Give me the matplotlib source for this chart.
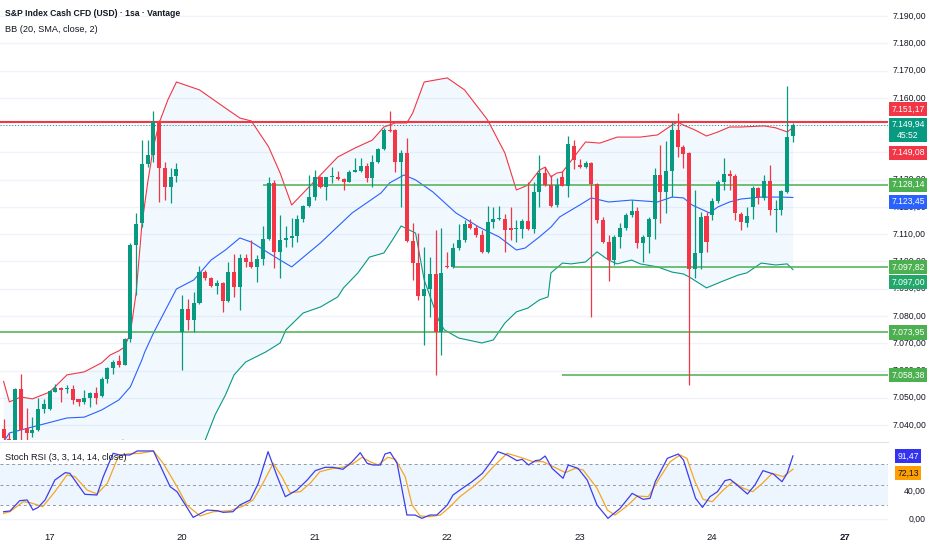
import matplotlib
matplotlib.use('Agg')
import matplotlib.pyplot as plt
import matplotlib.transforms as mtrans
from matplotlib import font_manager
import numpy as np

# TradingView text is narrow; use Liberation Sans Narrow when it is installed
try:
    font_manager.findfont('Liberation Sans Narrow', fallback_to_default=False)
    plt.rcParams['font.family'] = ['Liberation Sans Narrow', 'DejaVu Sans']
    FS = 7.4
except ValueError:
    plt.rcParams['font.family'] = ['Liberation Sans', 'DejaVu Sans']
    FS = 6.2

# 1 hour candles, S&P Index Cash CFD
opens = [7038.4, 7035.0, 7030.5, 7053.2, 7038.9, 7037.2, 7038.1, 7045.8, 7045.8, 7052.2,
         7053.7, 7053.2, 7053.4, 7049.4, 7048.3, 7049.9, 7051.8, 7050.7, 7056.9, 7061.1,
         7063.6, 7062.1, 7071.6, 7106.2, 7114.0, 7135.6, 7139.0, 7151.0, 7134.1, 7127.4,
         7131.3, 7074.2, 7082.6, 7078.5, 7084.6, 7096.2, 7093.8, 7091.1, 7092.2, 7085.6,
         7096.2, 7090.5, 7101.1, 7099.9, 7098.1, 7100.8, 7108.1, 7128.6, 7103.6, 7107.9,
         7108.5, 7109.3, 7115.4, 7120.3, 7123.5, 7130.8, 7127.2, 7130.8, 7131.0, 7130.2,
         7129.2, 7132.9, 7133.2, 7135.1, 7130.5, 7136.3, 7141.1, 7148.2, 7148.2, 7136.3,
         7139.9, 7107.6, 7099.3, 7087.5, 7089.8, 7095.3, 7074.3, 7098.4, 7098.1, 7105.1,
         7107.9, 7113.6, 7112.2, 7109.7, 7103.6, 7114.3, 7115.5, 7115.7, 7112.1, 7111.8,
         7111.8, 7115.0, 7111.8, 7125.6, 7132.3, 7128.1, 7120.8, 7131.1, 7127.7, 7142.4,
         7135.4, 7134.5, 7136.2, 7128.4, 7115.2, 7107.3, 7100.6, 7109.1, 7112.2, 7117.1,
         7118.6, 7106.7, 7108.9, 7115.5, 7131.7, 7125.6, 7133.3, 7148.2, 7142.1, 7139.9,
         7097.1, 7103.2, 7116.6, 7117.0, 7122.2, 7129.0, 7132.0, 7131.3, 7117.4, 7114.2,
         7120.0, 7126.8, 7123.1, 7129.5, 7118.8, 7118.8, 7125.5, 7146.0]
highs = [7042.4, 7037.0, 7053.6, 7058.6, 7046.1, 7042.8, 7050.1, 7049.4, 7052.8, 7055.0,
         7054.0, 7054.6, 7054.6, 7049.6, 7052.8, 7052.2, 7054.0, 7057.7, 7061.4, 7063.8,
         7065.7, 7072.0, 7106.6, 7117.6, 7144.5, 7144.5, 7155.3, 7151.9, 7136.6, 7134.1,
         7136.0, 7087.7, 7086.2, 7088.9, 7098.4, 7096.9, 7094.4, 7093.2, 7092.6, 7099.9,
         7102.9, 7102.7, 7102.9, 7107.9, 7102.4, 7113.0, 7131.1, 7129.9, 7117.0, 7113.0,
         7115.8, 7117.0, 7120.7, 7131.7, 7133.5, 7131.3, 7131.0, 7134.7, 7133.3, 7130.5,
         7133.5, 7137.8, 7137.8, 7136.0, 7139.0, 7141.5, 7148.8, 7155.3, 7148.4, 7140.9,
         7145.1, 7114.0, 7110.3, 7105.4, 7101.8, 7111.6, 7112.2, 7103.6, 7106.7, 7113.8,
         7115.2, 7115.5, 7113.4, 7111.6, 7120.4, 7119.9, 7120.4, 7117.3, 7119.9, 7115.2,
         7115.5, 7129.3, 7129.3, 7139.1, 7134.8, 7131.7, 7130.5, 7133.0, 7146.0, 7144.6,
         7137.5, 7137.0, 7136.6, 7128.7, 7116.4, 7109.7, 7109.7, 7114.0, 7117.7, 7122.6,
         7120.1, 7109.7, 7116.4, 7134.2, 7142.7, 7144.0, 7151.3, 7154.6, 7142.7, 7140.2,
         7126.2, 7118.2, 7118.2, 7123.1, 7129.8, 7138.1, 7133.5, 7132.0, 7118.2, 7120.0,
         7127.6, 7127.4, 7131.7, 7135.3, 7122.5, 7126.2, 7164.3, 7150.6]
lows = [7033.9, 7028.0, 7029.0, 7031.0, 7033.0, 7035.5, 7037.8, 7044.5, 7045.7, 7052.0,
        7048.5, 7051.6, 7047.9, 7047.1, 7047.9, 7046.5, 7047.9, 7050.4, 7055.5, 7058.7,
        7061.4, 7062.1, 7070.5, 7087.7, 7112.7, 7134.8, 7136.6, 7121.9, 7122.5, 7121.3,
        7129.2, 7060.2, 7074.8, 7074.2, 7084.4, 7093.2, 7090.7, 7087.9, 7081.6, 7085.2,
        7087.1, 7082.2, 7098.1, 7097.5, 7092.6, 7098.7, 7107.9, 7097.5, 7093.8, 7105.4,
        7105.4, 7107.2, 7114.6, 7120.1, 7122.5, 7126.8, 7122.5, 7128.6, 7129.9, 7126.2,
        7129.0, 7132.9, 7132.9, 7129.2, 7127.2, 7136.0, 7140.9, 7147.6, 7132.9, 7119.8,
        7107.2, 7093.2, 7085.9, 7069.4, 7079.8, 7058.4, 7065.7, 7097.5, 7097.5, 7104.2,
        7107.3, 7111.8, 7109.1, 7103.2, 7103.0, 7112.2, 7115.2, 7103.6, 7107.9, 7107.3,
        7108.5, 7111.6, 7110.6, 7119.9, 7127.5, 7119.9, 7120.1, 7127.5, 7123.5, 7133.8,
        7134.2, 7134.2, 7079.8, 7114.0, 7106.7, 7093.0, 7098.7, 7104.8, 7111.6, 7116.4,
        7104.8, 7099.9, 7103.2, 7108.1, 7114.0, 7117.7, 7123.8, 7138.4, 7134.1, 7054.6,
        7093.8, 7097.1, 7103.5, 7115.2, 7121.3, 7126.2, 7126.2, 7115.2, 7111.5, 7112.7,
        7115.4, 7121.0, 7122.5, 7117.0, 7110.9, 7117.0, 7125.2, 7143.9]
closes = [7035.1, 7030.5, 7053.2, 7038.1, 7037.2, 7038.1, 7045.8, 7047.7, 7052.5, 7053.7,
          7052.8, 7053.3, 7049.1, 7048.3, 7049.9, 7051.8, 7050.1, 7056.9, 7061.1, 7063.3,
          7062.1, 7071.6, 7106.2, 7113.9, 7135.6, 7139.0, 7151.0, 7134.1, 7127.4, 7130.8,
          7133.8, 7082.6, 7078.5, 7084.6, 7096.2, 7093.8, 7091.1, 7092.2, 7085.6, 7096.2,
          7090.5, 7101.1, 7099.9, 7098.1, 7100.8, 7108.1, 7128.6, 7103.6, 7107.9, 7108.5,
          7109.3, 7115.4, 7120.3, 7123.5, 7130.8, 7127.2, 7130.8, 7131.0, 7130.2, 7129.2,
          7132.9, 7133.2, 7135.1, 7130.5, 7136.3, 7141.1, 7148.2, 7147.8, 7136.3, 7139.9,
          7107.6, 7099.3, 7087.5, 7089.8, 7095.3, 7074.3, 7095.7, 7097.9, 7105.1, 7107.9,
          7113.6, 7112.2, 7109.7, 7103.6, 7114.3, 7115.5, 7115.7, 7111.6, 7111.6, 7112.3,
          7115.0, 7111.8, 7125.6, 7132.3, 7128.1, 7120.4, 7128.1, 7127.7, 7143.1, 7137.2,
          7134.5, 7136.2, 7128.4, 7115.2, 7107.3, 7100.6, 7109.1, 7112.2, 7117.1, 7118.6,
          7106.7, 7108.9, 7115.5, 7131.7, 7125.6, 7133.3, 7148.2, 7142.1, 7139.4, 7097.1,
          7103.2, 7116.4, 7107.0, 7122.2, 7129.0, 7132.0, 7131.3, 7117.6, 7114.5, 7116.6,
          7126.8, 7123.7, 7129.5, 7118.8, 7119.3, 7125.9, 7145.5, 7149.94]

# Bollinger bands (20, SMA, close, 2): bar position -> price
bb_up_x = [0, 1, 3, 5, 8, 11, 14, 17, 18.5, 20, 21, 22, 23, 24, 25, 26, 27, 28.5, 30, 34,
           39, 41, 43, 46, 48, 50, 52, 55, 58, 61, 64, 66, 68, 70, 71, 73, 77, 80, 82, 84,
           87, 89, 91, 93, 94, 95, 96, 97, 99, 101, 103.5, 106.5, 110.5, 113.5, 116, 117,
           118, 120, 122, 124, 126, 128, 132, 134, 136, 137]
bb_up_y = [7056.0, 7048.5, 7050.3, 7049.6, 7052.1, 7058.4, 7059.5, 7062.8, 7065.7, 7067.2,
           7068.6, 7073.8, 7088.4, 7113.4, 7128.8, 7142.0, 7150.8, 7159.2, 7165.8, 7162.9,
           7155.5, 7152.6, 7151.5, 7142.0, 7132.4, 7120.7, 7125.1, 7131.7, 7138.3, 7141.6,
           7144.5, 7149.3, 7150.8, 7150.8, 7154.4, 7165.8, 7167.3, 7162.9, 7157.4, 7151.9,
           7139.8, 7126.2, 7128.0, 7133.5, 7134.6, 7131.0, 7132.4, 7132.8, 7138.3, 7143.8,
           7143.4, 7145.6, 7145.6, 7146.4, 7150.0, 7151.1, 7150.0, 7148.2, 7146.0, 7147.5,
           7149.3, 7149.3, 7149.7, 7149.0, 7147.5, 7149.08]
bb_mid_x = [0, 1, 5, 11, 14, 17, 20, 22, 24, 24.5, 26, 30, 33, 36, 38.5, 41, 43, 46, 48, 50,
            55, 60.5, 65.5, 67, 69.5, 71.5, 74.5, 78.5, 82.5, 86, 89, 90.5, 93, 95, 96.5,
            100, 102, 105, 109, 113.5, 116, 118, 119.5, 122.5, 124, 126, 128, 131.5, 135, 137]
bb_mid_y = [7033.8, 7037.1, 7039.3, 7042.6, 7042.9, 7045.5, 7049.2, 7054.0, 7063.9, 7066.8,
            7073.7, 7089.9, 7093.2, 7100.5, 7104.2, 7108.6, 7107.1, 7103.1, 7100.5, 7098.0,
            7106.8, 7117.8, 7125.1, 7128.8, 7131.7, 7129.9, 7125.5, 7117.8, 7112.6, 7109.0,
            7104.2, 7104.9, 7109.0, 7112.6, 7116.3, 7120.7, 7123.3, 7121.8, 7122.5, 7121.8,
            7123.6, 7123.3, 7120.7, 7117.8, 7120.0, 7121.8, 7122.9, 7123.6, 7123.6, 7123.45]
bb_lo_x = [0, 5, 11, 17, 20.7, 22, 24, 26, 30, 33, 35, 36.7, 38.5, 40, 42, 45.5, 48, 49, 52,
           55, 58, 59, 61.5, 63.5, 66, 67.5, 69, 71.5, 73, 75.5, 76.5, 79, 83, 85, 87, 89,
           91, 93, 94.5, 95, 97, 98.5, 101, 103, 105, 106.5, 109, 110.5, 113.5, 116, 118,
           119, 122, 124.5, 127.5, 129, 131.5, 134, 136, 137]
bb_lo_y = [7012.0, 7020.0, 7027.0, 7029.0, 7034.5, 7033.0, 7020.0, 7005.0, 7014.0, 7025.0,
           7034.5, 7043.7, 7051.0, 7058.4, 7063.1, 7066.8, 7070.1, 7074.9, 7081.1, 7083.3,
           7087.0, 7090.3, 7095.8, 7101.6, 7103.1, 7107.9, 7113.0, 7110.4, 7093.2, 7078.5,
           7074.9, 7071.9, 7070.1, 7071.2, 7077.4, 7081.5, 7082.9, 7085.9, 7087.0, 7095.8,
           7099.4, 7099.1, 7099.8, 7103.5, 7100.5, 7099.1, 7100.5, 7099.1, 7098.0, 7096.1,
           7095.4, 7094.3, 7090.3, 7092.5, 7095.0, 7095.8, 7099.4, 7098.7, 7099.1, 7097.0]

# horizontal levels drawn on the chart: price, first bar, colour
levels = [7151.17, 7128.14, 7097.82, 7073.95, 7058.38]
level_start = [-1, 45, 78, -1, 97]
level_color = ['#f23645', '#4caf50', '#4caf50', '#4caf50', '#4caf50']
last_price = 7149.94

# Stoch RSI (3, 3, 14, 14, close)
k_x = [0, 1.1, 2.8, 4.1, 5.1, 6, 7.2, 8.9, 10.7, 11.5, 14.1, 16.2, 17.3, 19, 20.2, 21.9, 23.2,
       26, 28.9, 30.1, 32.9, 35.3, 37.1, 38.1, 39.8, 41, 42.8, 44.2, 45.9, 47.5, 48.9, 50.9,
       52.7, 54.1, 55.8, 57.2, 58.9, 60.5, 61.9, 63.1, 64.1, 65.4, 66.2, 67.1, 68.3, 70, 71.4,
       72.6, 74, 75.2, 77, 78, 79.2, 81.3, 83.1, 84.4, 85.8, 87.4, 89.1, 90, 91.1, 92.3, 93.1,
       94, 95.2, 97.1, 98, 99.7, 101.3, 103, 104.9, 107, 109.1, 111, 112.2, 113.1, 115.2,
       117.1, 118, 120.1, 121.3, 122.6, 123.9, 125.2, 126.1, 127.3, 129.1, 130.4, 131.8,
       133.6, 135.1, 136, 137]
k_y = [10.6, 11.6, 26.6, 27.6, 13.0, 16.9, 27.6, 56.5, 67.2, 66.2, 35.8, 34.8, 61.4, 95.2,
       92.8, 92.8, 98.6, 98.6, 46.9, 39.6, 2.4, 13.0, 12.1, 9.7, 10.6, 20.3, 27.6, 51.7, 97.6,
       61.4, 32.4, 42.0, 56.5, 70.1, 74.9, 74.9, 72.0, 83.1, 96.1, 80.7, 78.3, 78.3, 94.2,
       96.6, 80.7, 5.8, 5.8, 1.0, 5.8, 5.8, 20.3, 34.8, 42.0, 54.1, 66.2, 80.7, 97.6, 92.8,
       84.6, 86.5, 78.3, 84.6, 85.5, 91.3, 73.4, 59.0, 78.3, 73.4, 56.5, 20.3, 1.0, 15.5,
       37.2, 28.5, 30.0, 54.1, 87.9, 94.2, 85.5, 30.0, 16.9, 32.4, 39.6, 55.6, 57.5, 49.3,
       36.3, 49.3, 70.1, 65.2, 54.1, 66.2, 91.47]
d_x = [0, 1.1, 3.4, 4.6, 6.8, 8.9, 11, 12.4, 14.5, 16.2, 18, 19.9, 21.4, 23.7, 26, 27.7, 30.1,
       31.8, 34.1, 36.4, 39.3, 41.6, 43.3, 45, 46.8, 48.3, 49.7, 51.5, 53.2, 54.9, 57.2, 58.9,
       60.7, 62.2, 63.6, 65, 66.7, 68, 69.7, 70.9, 72.3, 74, 75.8, 77.5, 79.2, 81.5, 83.2,
       85, 87.4, 89.7, 91.9, 93.6, 95.4, 97.5, 99.2, 100.6, 103, 104.8, 106.1, 108.2, 110,
       111.9, 114, 115.7, 117.4, 118.6, 120, 121.4, 123, 124.9, 126.6, 128.4, 130, 131.7,
       133.4, 135.3, 137]
d_y = [8.2, 10.6, 25.1, 23.7, 17.9, 39.6, 63.8, 61.4, 42.0, 36.3, 51.7, 90.4, 94.2, 95.2,
       98.6, 80.7, 46.9, 20.3, 4.4, 10.6, 12.1, 18.8, 27.6, 51.7, 80.7, 61.4, 38.2, 39.6,
       51.7, 68.6, 73.4, 74.9, 80.7, 89.4, 83.1, 78.3, 89.4, 86.5, 61.4, 20.3, 4.4, 3.4, 5.8,
       17.9, 32.4, 46.9, 59.0, 75.9, 95.2, 89.4, 83.1, 83.1, 75.9, 67.2, 73.4, 71.0, 44.5,
       13.0, 5.8, 18.8, 33.3, 32.4, 61.4, 83.1, 92.8, 87.9, 54.1, 28.5, 25.1, 42.0, 54.1,
       44.5, 39.6, 51.7, 66.2, 61.4, 72.13]

day_pos = [8, 31, 54, 77, 100, 123, 146]
day_labels = ['17', '20', '21', '22', '23', '24', '27']

# price-scale ticks; 7.150 / 7.140 / 80 sit fully under the value tags, so not shown
price_ticks = [7040, 7050, 7060, 7070, 7080, 7090, 7100, 7110, 7120, 7130, 7160, 7170, 7180, 7190]
stoch_ticks = [0, 40]

GREEN = '#089981'
RED = '#f23645'
TXT = '#131722'


def fmt(v):
    s = '{:,.2f}'.format(v)
    return s.replace(',', 'X').replace('.', ',').replace('X', '.')


fig = plt.figure(figsize=(9.32, 5.5), dpi=100)
pw = 888 / 932
ax = fig.add_axes([0, 110 / 550, pw, 440 / 550])
ax2 = fig.add_axes([0, 22 / 550, pw, 86 / 550])

xmin, xmax = -0.625, 153.5
ax.set_xlim(xmin, xmax)
ax.set_ylim(7034.52, 7195.87)
ax2.set_xlim(xmin, xmax)
ax2.set_ylim(-13.0, 111.6)

for a in (ax, ax2):
    a.set_xticks([])
    a.set_yticks([])
    for s in a.spines.values():
        s.set_visible(False)
ax2.spines['top'].set_visible(True)
ax2.spines['top'].set_color('#e0e3eb')

# grid + price scale
ybl = mtrans.blended_transform_factory(ax.transAxes, ax.transData)
for p in range(7040, 7191, 10):
    ax.axhline(p, color='#f0f3fa', lw=1, zorder=0)
for p in price_ticks:
    ax.text(1.0428, p, fmt(p), transform=ybl, ha='right', va='center',
            fontsize=FS, color=TXT, clip_on=False, zorder=1)

# bollinger bands
ax.fill(np.concatenate([bb_up_x, bb_lo_x[::-1]]), np.concatenate([bb_up_y, bb_lo_y[::-1]]),
        color='#2196f3', alpha=0.06, lw=0, zorder=1)
ax.plot(bb_up_x, bb_up_y, color=RED, lw=0.8, zorder=2)
ax.plot(bb_mid_x, bb_mid_y, color='#2962ff', lw=0.8, zorder=2)
ax.plot(bb_lo_x, bb_lo_y, color=GREEN, lw=0.8, zorder=2)

# levels
for lv, st, c in zip(levels, level_start, level_color):
    ax.hlines(lv, max(st, xmin), xmax, color=c, lw=1.5 if c == RED else 1.1, zorder=3)
ax.axhline(last_price, color=GREEN, lw=0.7, ls=(0, (1, 2)), zorder=3)

# candles
idx = np.arange(len(closes))
o = np.array(opens)
c = np.array(closes)
up = c >= o
cols = np.where(up, GREEN, RED)
ax.vlines(idx, lows, highs, colors=cols, lw=0.9, zorder=4)
body = np.maximum(np.abs(c - o), 0.45)
ax.bar(idx, body, bottom=np.minimum(o, c), width=0.7, color=cols, lw=0, zorder=5)


# price labels on the scale
def tag(a, val, text, color, dy=0, tc='white'):
    tr = mtrans.blended_transform_factory(a.transAxes, a.transData)
    a.annotate(text, xy=(1.0225, val), xycoords=tr, xytext=(0, dy), textcoords='offset points',
               ha='center', va='center', fontsize=FS, color=tc, annotation_clip=False,
               linespacing=1.2, zorder=10,
               bbox=dict(boxstyle='square,pad=0.3', fc=color, ec='none'))


tag(ax, 7151.17, fmt(7151.17), RED, dy=9.0)
tag(ax, last_price, fmt(last_price) + '\n45:52', GREEN, dy=-3.4)
tag(ax, 7149.08, fmt(7149.08), RED, dy=-18.0)
tag(ax, 7128.14, fmt(7128.14), '#4caf50')
tag(ax, 7123.45, fmt(7123.45), '#2962ff', dy=-3)
tag(ax, 7097.82, fmt(7097.82), '#4caf50')
tag(ax, 7097.00, fmt(7097.00), '#22a86b', dy=-9)
tag(ax, 7073.95, fmt(7073.95), '#4caf50')
tag(ax, 7058.38, fmt(7058.38), '#4caf50')

# stoch rsi panel
ax2.axhspan(20, 80, color='#2196f3', alpha=0.08, lw=0, zorder=0)
for lv in (80, 50, 20):
    ax2.axhline(lv, color='#9598a1', lw=0.7, ls=(0, (3, 3)), zorder=1)
ybl2 = mtrans.blended_transform_factory(ax2.transAxes, ax2.transData)
for v in stoch_ticks:
    ax2.axhline(v, color='#f0f3fa', lw=1, zorder=0)
    ax2.text(1.0428, v, fmt(v), transform=ybl2, ha='right', va='center',
             fontsize=FS, color=TXT, clip_on=False)
ax2.plot(k_x, k_y, color='#3d3dec', lw=0.9, zorder=3)
ax2.plot(d_x, d_y, color='#f5a623', lw=0.9, zorder=2)
tag(ax2, 91.47, '91,47', '#3232f0')
tag(ax2, 72.13, '72,13', '#ffa000', dy=-3, tc=TXT)

# day labels
xbl = mtrans.blended_transform_factory(ax2.transData, ax2.transAxes)
for p, lab in zip(day_pos, day_labels):
    ax2.text(p, -0.105, lab, transform=xbl, ha='center', va='center', fontsize=FS + 0.6,
             color=TXT, fontweight='bold' if lab == '27' else 'normal', clip_on=False)

fig.text(5 / 932, 1 - 14 / 550, 'S&P Index Cash CFD (USD) · 1sa · Vantage', fontsize=FS,
         fontweight='bold', color=TXT, va='center')
fig.text(5 / 932, 1 - 29 / 550, 'BB (20, SMA, close, 2)', fontsize=FS + 0.4, color=TXT,
         va='center')
fig.text(5 / 932, 1 - 457 / 550, 'Stoch RSI (3, 3, 14, 14, close)', fontsize=FS + 0.4,
         color=TXT, va='center')

fig.savefig('out.png', dpi=100)
